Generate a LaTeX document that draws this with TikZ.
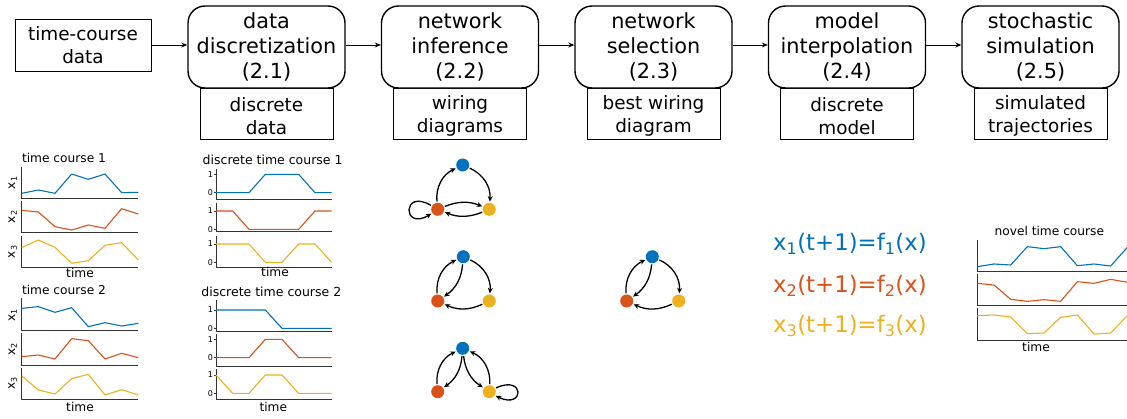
\documentclass[tikz,border=0pt]{standalone}
\usepackage{fontspec}
\setmainfont{DejaVu Sans}
\usetikzlibrary{arrows.meta}
\definecolor{mblue}{RGB}{0,114,189}
\definecolor{morange}{RGB}{217,83,25}
\definecolor{myellow}{RGB}{237,177,32}
\tikzset{
 stepbox/.style={draw, fill=white, line width=1.4pt, rounded corners=17pt, minimum width=157pt, minimum height=82pt, align=center, inner sep=0pt, font=\fontsize{20.8}{25}\selectfont},
 outbox/.style={draw, line width=0.9pt, minimum width=133pt, minimum height=51pt, inner sep=0pt},
 outtext/.style={align=center, inner sep=0pt, font=\fontsize{18.4}{23}\selectfont},
 inbox/.style={draw, line width=0.9pt, minimum width=136pt, minimum height=52pt, align=center, inner sep=0pt, font=\fontsize{18.4}{23}\selectfont},
 flow/.style={-{Stealth[length=6pt,width=5pt]}, line width=0.9pt},
 spine/.style={line width=0.9pt, black!80},
 ser/.style={line width=1.1pt, line join=round},
 ptitle/.style={inner sep=0pt, font=\fontsize{12.2}{14}\selectfont},
 dtitle/.style={inner sep=0pt, font=\fontsize{12.5}{14}\selectfont},
 ylab/.style={inner sep=0pt, rotate=90, font=\fontsize{12}{14}\selectfont},
 ticklab/.style={inner sep=0pt, font=\fontsize{8}{9}\selectfont},
 gnode/.style={circle, minimum size=13pt, inner sep=0pt},
 edge/.style={-{Stealth[length=5.5pt,width=5pt]}, line width=1.3pt, shorten >=1pt, shorten <=1pt},
 eq/.style={anchor=base west, inner sep=0pt, font=\fontsize{22.8}{26}\selectfont},
}
\begin{document}
\begin{tikzpicture}[x=1pt,y=-1pt]
\useasboundingbox (0,0) rectangle (1127,418);

% ---------- flow chart ----------
\node[inbox] (tc) at (83,45) {time-course\\data};
\foreach \i/\cx in {1/266.5,2/460,3/653.5,4/847,5/1040.5}{
  \node[outbox] (o\i) at (\cx,113.5) {};
}
\node[outtext] (ot1) at ([yshift=-2.5pt]o1.center) {discrete\\data};
\node[outtext] (ot2) at ([yshift=-2.5pt]o2.center) {wiring\\diagrams};
\node[outtext] (ot3) at ([yshift=-2.5pt]o3.center) {best wiring\\diagram};
\node[outtext] (ot4) at ([yshift=-2.5pt]o4.center) {discrete\\model};
\node[outtext] (ot5) at ([yshift=-2.5pt]o5.center) {simulated\\trajectories};
\node[stepbox] (s1) at (266.5,47) {data\\discretization\\(2.1)};
\node[stepbox] (s2) at (460,47) {network\\inference\\(2.2)};
\node[stepbox] (s3) at (653.5,47) {network\\selection\\(2.3)};
\node[stepbox] (s4) at (847,47) {model\\interpolation\\(2.4)};
\node[stepbox] (s5) at (1040.5,47) {stochastic\\simulation\\(2.5)};
\draw[flow] (tc.east) -- (tc.east -| s1.west);
\draw[flow] ([yshift=2pt]s1.east) -- ([yshift=2pt]s2.west);
\draw[flow] ([yshift=2pt]s2.east) -- ([yshift=2pt]s3.west);
\draw[flow] ([yshift=2pt]s3.east) -- ([yshift=2pt]s4.west);
\draw[flow] ([yshift=2pt]s4.east) -- ([yshift=2pt]s5.west);

% ---------- time course 1 ----------
\begin{scope}[xshift=0pt,yshift=-140pt,x=0.33333pt,y=-0.33333pt]
\node[ptitle] (tc1t) at (192,55) {time course 1};
\draw[spine] (65,80) -- (65,175) -- (415,175);
\draw[spine] (65,183) -- (65,277) -- (415,277);
\draw[spine] (65,287) -- (65,381) -- (415,381);
\node[ylab] (tc1y1) at (38,128) {x\textsubscript{1}};
\node[ylab] (tc1y2) at (38,230) {x\textsubscript{2}};
\node[ylab] (tc1y3) at (38,335) {x\textsubscript{3}};
\node[ptitle] (tc1x) at (240,398) {time};
\draw[ser,mblue] plot coordinates {(65,160) (115,150) (165,160) (215,102) (265,118) (315,102) (365,158) (415,157)};
\draw[ser,morange] plot coordinates {(65,211) (115,216) (165,260) (215,270) (265,255) (315,265) (365,206) (415,222)};
\draw[ser,myellow] plot coordinates {(65,323) (115,300) (165,322) (215,370) (265,362) (315,316) (365,308) (415,360)};
\end{scope}

% ---------- time course 2 ----------
\begin{scope}[xshift=0pt,yshift=-280pt,x=0.33333pt,y=-0.33333pt]
\node[ptitle] (tc2t) at (192,30) {time course 2};
\draw[spine] (65,55) -- (65,152) -- (415,152);
\draw[spine] (65,160) -- (65,255) -- (415,255);
\draw[spine] (65,263) -- (65,358) -- (415,358);
\node[ylab] (tc2y1) at (38,105) {x\textsubscript{1}};
\node[ylab] (tc2y2) at (38,208) {x\textsubscript{2}};
\node[ylab] (tc2y3) at (38,310) {x\textsubscript{3}};
\node[ptitle] (tc2x) at (240,380) {time};
\draw[ser,mblue] plot coordinates {(65,85) (115,80) (165,97) (215,83) (265,140) (315,128) (365,138) (415,130)};
\draw[ser,morange] plot coordinates {(65,230) (115,225) (165,237) (215,176) (265,182) (315,237) (365,220) (415,233)};
\draw[ser,myellow] plot coordinates {(65,287) (115,330) (165,342) (215,296) (265,283) (315,345) (365,329) (415,345)};
\end{scope}

% ---------- discrete time course 1 ----------
\begin{scope}[xshift=190pt,yshift=-140pt,x=0.33333pt,y=-0.33333pt]
\node[dtitle] (d1t) at (248,60) {discrete time course 1};
\draw[spine] (78,88) -- (78,178) -- (425,178);
\draw[spine] (78,188) -- (78,275) -- (425,275);
\draw[spine] (78,288) -- (78,382) -- (425,382);
\foreach \yy/\lab [count=\k] in {103/1,158/0,213/1,268/0,312/1,367/0}{
  \draw[spine,line width=0.6pt] (71,\yy) -- (78,\yy);
  \node[ticklab] (d1k\k) at (61,\yy) {\lab};
}
\node[ptitle] (d1x) at (255,396) {time};
\draw[ser,mblue] plot coordinates {(78,158) (128,158) (177,158) (226,103) (276,103) (326,103) (375,158) (425,158)};
\draw[ser,morange] plot coordinates {(78,213) (128,213) (177,268) (226,268) (276,268) (326,268) (375,213) (425,213)};
\draw[ser,myellow] plot coordinates {(78,312) (128,312) (177,312) (226,367) (276,367) (326,312) (375,312) (425,367)};
\end{scope}

% ---------- discrete time course 2 ----------
\begin{scope}[xshift=190pt,yshift=-280pt,x=0.33333pt,y=-0.33333pt]
\node[dtitle] (d2t) at (244,35) {discrete time course 2};
\draw[spine] (78,60) -- (78,153) -- (425,153);
\draw[spine] (78,163) -- (78,258) -- (425,258);
\draw[spine] (78,268) -- (78,358) -- (425,358);
\foreach \yy/\lab [count=\k] in {90/1,145/0,178/1,233/0,285/1,340/0}{
  \draw[spine,line width=0.6pt] (71,\yy) -- (78,\yy);
  \node[ticklab] (d2k\k) at (61,\yy) {\lab};
}
\node[ptitle] (d2x) at (250,382) {time};
\draw[ser,mblue] plot coordinates {(78,90) (128,90) (177,90) (226,90) (276,145) (326,145) (375,145) (425,145)};
\draw[ser,morange] plot coordinates {(78,233) (128,233) (177,233) (226,178) (276,178) (326,233) (375,233) (425,233)};
\draw[ser,myellow] plot coordinates {(78,285) (128,340) (177,340) (226,285) (276,285) (326,340) (375,340) (425,340)};
\end{scope}

% ---------- novel time course ----------
\begin{scope}[xshift=965pt,yshift=-215pt,x=0.33333pt,y=-0.33333pt]
\node[ptitle] (nvt) at (253,48) {novel time course};
\draw[spine] (37,75) -- (37,168) -- (500,168);
\draw[spine] (37,177) -- (37,270) -- (500,270);
\draw[spine] (37,280) -- (37,375) -- (500,375);
\node[ptitle] (nvx) at (213,395) {time};
\draw[ser,mblue] plot coordinates {(37,155) (87,147) (137,150) (187,95) (237,101) (287,95) (337,152) (387,147) (437,153) (487,97)};
\draw[ser,morange] plot coordinates {(37,205) (87,210) (137,253) (187,259) (237,254) (287,259) (337,200) (387,205) (437,193) (487,202)};
\draw[ser,myellow] plot coordinates {(37,302) (87,300) (137,306) (187,356) (237,354) (287,307) (337,300) (387,357) (437,354) (487,302)};
\end{scope}

% ---------- networks ----------
% network 1
\node[gnode,fill=mblue] (n1b) at (462.7,165) {};
\node[gnode,fill=morange] (n1o) at (437.7,209.3) {};
\node[gnode,fill=myellow] (n1y) at (489.3,209.3) {};
\draw[edge] (n1o) to[bend left=35] (n1b);
\draw[edge] (n1b) to[bend left=35] (n1y);
\draw[edge] (n1o) to[bend left=22] (n1y);
\draw[edge] (n1y) to[bend left=22] (n1o);
\draw[edge] (n1o.150) .. controls +(-30,-18) and +(-30,18) .. (n1o.215);
% network 2
\node[gnode,fill=mblue] (n2b) at (463.3,256.7) {};
\node[gnode,fill=morange] (n2o) at (437.7,301) {};
\node[gnode,fill=myellow] (n2y) at (489.3,301) {};
\draw[edge] (n2o) to[bend left=35] (n2b);
\draw[edge] (n2b) to[bend left=25] (n2o);
\draw[edge] (n2b) to[bend left=35] (n2y);
\draw[edge] (n2y) to[bend left=25] (n2o);
% network 3
\node[gnode,fill=mblue] (n3b) at (462.7,348.3) {};
\node[gnode,fill=morange] (n3o) at (437.7,391.7) {};
\node[gnode,fill=myellow] (n3y) at (489.3,391.7) {};
\draw[edge] (n3o) to[bend left=35] (n3b);
\draw[edge] (n3b) to[bend left=25] (n3o);
\draw[edge] (n3b) to[bend right=25] (n3y);
\draw[edge] (n3y) to[bend right=35] (n3b);
\draw[edge] (n3y.30) .. controls +(30,-14) and +(30,14) .. (n3y.-35);
% network 4 (best)
\node[gnode,fill=mblue] (n4b) at (652.3,256.7) {};
\node[gnode,fill=morange] (n4o) at (626.7,301) {};
\node[gnode,fill=myellow] (n4y) at (678.7,301) {};
\draw[edge] (n4o) to[bend left=35] (n4b);
\draw[edge] (n4b) to[bend left=25] (n4o);
\draw[edge] (n4b) to[bend left=35] (n4y);
\draw[edge] (n4y) to[bend left=25] (n4o);

% ---------- equations ----------
\node[eq,text=mblue] (e1) at (773,250) {x\textsubscript{1}(t+1)=f\textsubscript{1}(x)};
\node[eq,text=morange] (e2) at (773,292) {x\textsubscript{2}(t+1)=f\textsubscript{2}(x)};
\node[eq,text=myellow] (e3) at (773,332) {x\textsubscript{3}(t+1)=f\textsubscript{3}(x)};
\end{tikzpicture}
\end{document}
